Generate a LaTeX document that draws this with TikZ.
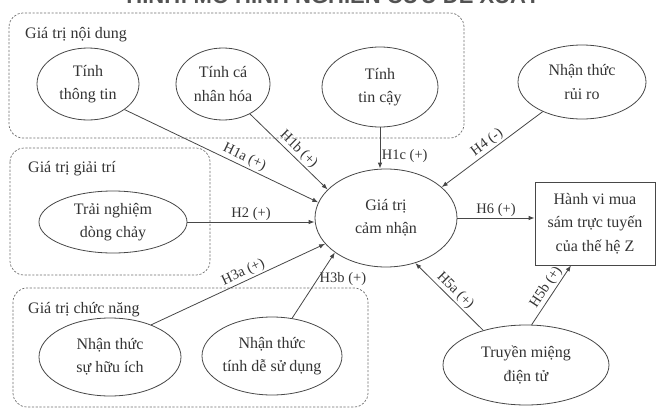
\documentclass[tikz,border=0pt]{standalone}
\usepackage{fontspec}
\setmainfont{Liberation Serif}
\newfontfamily\titlefont{Liberation Sans}
\usetikzlibrary{shapes.geometric,arrows.meta,calc}
\definecolor{ink}{HTML}{333333}
\definecolor{lin}{HTML}{474747}
\definecolor{dsh}{HTML}{6E6E6E}
\begin{document}
\begin{tikzpicture}[x=1pt,y=-1pt,
  every node/.style={text=ink, font=\fontsize{16}{23.5}\selectfont},
  oval/.style={ellipse, draw=lin, line width=0.8pt, inner sep=0pt, align=center},
  rbox/.style={rectangle, draw=lin, line width=0.8pt, inner sep=0pt, align=center},
  grp/.style={draw=dsh, dash pattern=on 2.2pt off 1.6pt, line width=0.7pt, rounded corners=14pt},
  grplab/.style={anchor=base west, inner sep=0pt},
  arr/.style={draw=lin, line width=0.8pt, -{Latex[length=6pt,width=4.5pt]}},
  lab/.style={font=\fontsize{14.5}{16}\selectfont, inner sep=1.5pt}
]
\useasboundingbox (0,0) rectangle (657,410);
\clip (0,0) rectangle (657,410);

% title (cut off at the top)
\node[anchor=base, inner sep=0pt, text=ink!85, font=\titlefont\bfseries\fontsize{22}{24}\selectfont] (title) at (333,3.5) {HÌNH: MÔ HÌNH NGHIÊN CỨU ĐỀ XUẤT};

% group boxes
\draw[grp] (9,13) rectangle (464,138);
\draw[grp] (10,148) rectangle (210,275);
\draw[grp] (13,288) rectangle (368,407);
\node[grplab] (l1) at (25,38) {Giá trị nội dung};
\node[grplab] (l2) at (28,172) {Giá trị giải trí};
\node[grplab] (l3) at (28,313) {Giá trị chức năng};

% nodes
\node[oval, minimum width=102pt, minimum height=72pt] (tt) at (88,84) {Tính\\thông tin};
\node[oval, minimum width=94pt, minimum height=72pt] (cn) at (223,84) {Tính cá\\nhân hóa};
\node[oval, minimum width=116pt, minimum height=80pt] (tc) at (380,87) {Tính\\tin cậy};
\node[oval, minimum width=128pt, minimum height=74pt] (rr) at (582,82) {Nhận thức\\rủi ro};
\node[oval, minimum width=148pt, minimum height=62pt] (tn) at (113,222) {Trải nghiệm\\dòng chảy};
\node[oval, minimum width=142pt, minimum height=98pt] (g) at (386,218) {Giá trị\\cảm nhận};
\node[rbox, minimum width=120pt, minimum height=83pt] (hv) at (595,223.5) {Hành vi mua\\sám trực tuyến\\của thế hệ Z};
\node[oval, minimum width=142pt, minimum height=78pt] (hi) at (110,357) {Nhận thức\\sự hữu ích};
\node[oval, minimum width=140pt, minimum height=78pt] (ds) at (272,356) {Nhận thức\\tính dễ sử dụng};
\node[oval, minimum width=166pt, minimum height=80pt] (tm) at (526,365) {Truyền miệng\\điện tử};

% connectors
\draw[arr] (tt.-35) -- node[lab, sloped, above, pos=0.6] {H1a (+)} (g.167);
\draw[arr] (cn.-48) -- node[lab, sloped, above, pos=0.55] {H1b (+)} (g.154);
\draw[arr] (tc.south) -- node[lab, right, pos=0.7] {H1c (+)} (tc.south |- g.north);
\draw[arr] (rr.217) -- node[lab, sloped, above, pos=0.5] {H4 (-)} (g.29);
\draw[arr] (tn.east) -- node[lab, above] {H2 (+)} (tn.east -| g.west);
\draw[arr] (hi.38) -- node[lab, sloped, above, pos=0.55] {H3a (+)} (g.203);
\draw[arr] (ds.62) -- node[lab, right, pos=0.6] {H3b (+)} (g.214);
\draw[arr] (g.east) -- node[lab, above] {H6 (+)} (g.east -| hv.west);
\draw[arr] (tm.141) -- node[lab, sloped, above, pos=0.5] {H5a (+)} (g.303);
\draw[arr] (tm.82) -- node[lab, sloped, above, pos=0.55] {H5b (+)} ([xshift=-24pt]hv.south);
\end{tikzpicture}
\end{document}
